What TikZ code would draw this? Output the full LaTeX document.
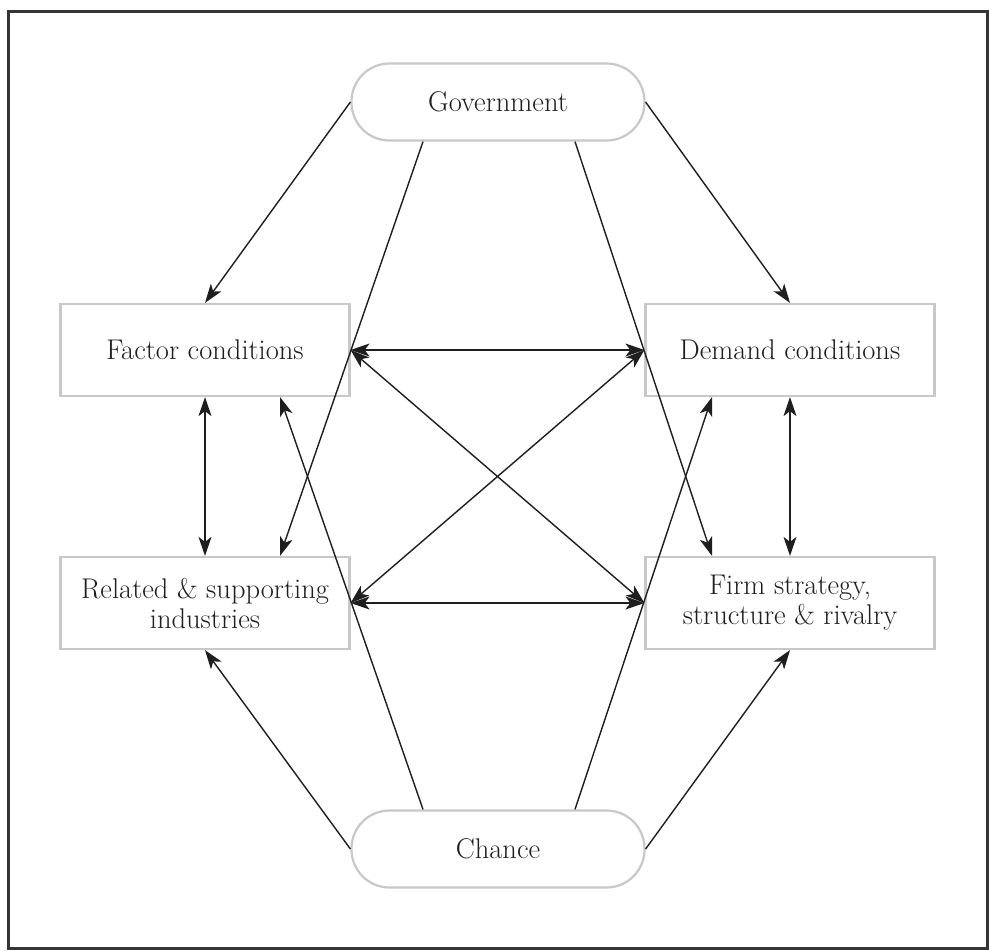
\documentclass[tikz,border=0pt]{standalone}
\usepackage{xcolor}
\usetikzlibrary{arrows.meta}
\usetikzlibrary{positioning}

\definecolor{boxgray}{RGB}{200,200,200}
\definecolor{inkgray}{RGB}{30,30,30}

\tikzset{
  box/.style={draw=boxgray, line width=2.2pt, minimum width=289pt, minimum height=92pt,
    align=center, text=inkgray, font=\fontsize{28.5}{30}\selectfont},
  pill/.style={box, minimum width=293pt, minimum height=77pt, rounded corners=38pt},
  link/.style={inkgray, line width=1.4pt, -{Stealth[length=19pt,width=13pt,inset=5pt]}},
  both/.style={link, {Stealth[length=19pt,width=13pt,inset=5pt]}-{Stealth[length=19pt,width=13pt,inset=5pt]}}
}

\begin{document}
\begin{tikzpicture}[x=1pt,y=-1pt]
\useasboundingbox (0,0) rectangle (989,951);
\draw[line width=3pt, color=inkgray!90] (8,11) rectangle (987,948);

\node[pill] (gov) at (498,102) {Government};
\node[pill] (chance) at (498,849) {Chance};
\node[box] (factor) at (205,350) {Factor conditions};
\node[box] (demand) at (790,350) {Demand conditions};
\node[box] (related) at (205,603) {Related \& supporting\\industries};
\node[box] (firm) at (790,603) {Firm strategy,\\structure \& rivalry};

% government
\draw[link] (gov.west) -- (factor.north);
\draw[link] (gov.east) -- (demand.north);
\draw[link] ([xshift=-75pt]gov.south) -- ([xshift=75pt]related.north);
\draw[link] ([xshift=77pt]gov.south) -- ([xshift=-78pt]firm.north);

% chance
\draw[link] (chance.west) -- (related.south);
\draw[link] (chance.east) -- (firm.south);
\draw[link] ([xshift=-75pt]chance.north) -- ([xshift=75pt]factor.south);
\draw[link] ([xshift=77pt]chance.north) -- ([xshift=-78pt]demand.south);

% diamond
\draw[both] (factor.south) -- (related.north);
\draw[both] (demand.south) -- (firm.north);
\draw[both] (factor.east) -- (demand.west);
\draw[both] (related.east) -- (firm.west);
\draw[both] (factor.east) -- (firm.west);
\draw[both] (related.east) -- (demand.west);

\end{tikzpicture}
\end{document}
